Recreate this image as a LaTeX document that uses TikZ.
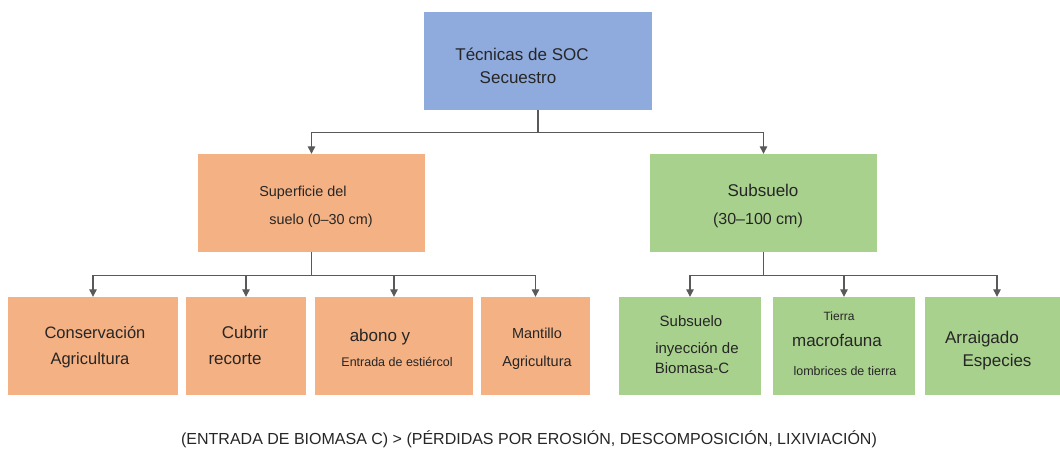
\documentclass[tikz,border=0pt]{standalone}
\usepackage{fontspec}
\setmainfont{Liberation Sans}
\usetikzlibrary{arrows.meta}
\definecolor{boxblue}{HTML}{8FAADC}
\definecolor{boxorange}{HTML}{F4B183}
\definecolor{boxgreen}{HTML}{A9D18E}
\definecolor{linegray}{HTML}{595959}
\definecolor{txtgray}{HTML}{262626}

\begin{document}
\begin{tikzpicture}[x=1pt, y=-1pt,
  box/.style={inner sep=0, minimum height=98pt},
  txt/.style={inner sep=0, text=txtgray, text height=0.72em, text depth=0pt},
  big/.style={txt, font=\fontsize{17}{20}\selectfont},
  mid/.style={txt, font=\fontsize{15}{18}\selectfont},
  small/.style={txt, font=\fontsize{12.5}{15}\selectfont},
  link/.style={draw=linegray, line width=1.2pt},
  arr/.style={link, -{Triangle[length=7.5pt,width=7.5pt]}}]
\useasboundingbox (0,0) rectangle (1060,453);

\node [box, fill=boxblue, minimum width=228pt] (tec) at (538,61) {};
\node [big] (tec1) at (522,57) {Técnicas de SOC};
\node [big] (tec2) at (518,80) {Secuestro};

\node [box, fill=boxorange, minimum width=227pt] (sup) at (311.5,203) {};
\node [txt, font=\fontsize{14.4}{17}\selectfont] (sup1) at (303,193) {Superficie del};
\node [txt, font=\fontsize{14.4}{17}\selectfont] (sup2) at (321,221) {suelo (0–30 cm)};

\node [box, fill=boxgreen, minimum width=227pt] (subs) at (763.5,203) {};
\node [big] (subs1) at (763,193) {Subsuelo};
\node [txt, font=\fontsize{16}{19}\selectfont] (subs2) at (758,221) {(30–100 cm)};

\node [box, fill=boxorange, minimum width=170pt] (c1) at (93,346) {};
\node [txt, font=\fontsize{16.5}{19}\selectfont] (c1a) at (95,335) {Conservación};
\node [txt, font=\fontsize{16.5}{19}\selectfont] (c1b) at (90,361) {Agricultura};

\node [box, fill=boxorange, minimum width=120pt] (c2) at (246,346) {};
\node [big] (c2a) at (245,335) {Cubrir};
\node [big] (c2b) at (235,361) {recorte};

\node [box, fill=boxorange, minimum width=158pt] (c3) at (394,346) {};
\node [big] (c3a) at (380,338) {abono y};
\node [small] (c3b) at (397,363) {Entrada de estiércol};

\node [box, fill=boxorange, minimum width=109pt] (c4) at (535.5,346) {};
\node [txt, font=\fontsize{14.5}{17}\selectfont] (c4a) at (537,335) {Mantillo};
\node [txt, font=\fontsize{14.5}{17}\selectfont] (c4b) at (537,363) {Agricultura};

\node [box, fill=boxgreen, minimum width=142pt] (c5) at (690,346) {};
\node [mid] (c5a) at (691,323) {Subsuelo};
\node [mid] (c5b) at (697,350) {inyección de};
\node [mid] (c5c) at (692,370) {Biomasa-C};

\node [box, fill=boxgreen, minimum width=142pt] (c6) at (844,346) {};
\node [txt, font=\fontsize{12}{14}\selectfont] (c6a) at (839,317) {Tierra};
\node [big] (c6b) at (837,343) {macrofauna};
\node [small] (c6c) at (845,372) {lombrices de tierra};

\node [box, fill=boxgreen, minimum width=135pt] (c7) at (992.5,346) {};
\node [big] (c7a) at (982,340) {Arraigado};
\node [big] (c7b) at (997,363) {Especies};

\draw [link] (tec.south) -- ++(0,22) coordinate (j1);
\draw [arr] (j1) -| (sup.north);
\draw [arr] (j1) -| (subs.north);

\draw [link] (sup.south) -- ++(0,23) coordinate (j2);
\draw [arr] (j2) -| (c1.north);
\draw [arr] (j2) -| (c2.north);
\draw [arr] (j2) -| (c3.north);
\draw [arr] (j2) -| (c4.north);

\draw [link] (subs.south) -- ++(0,23) coordinate (j3);
\draw [arr] (j3) -| (c5.north);
\draw [arr] (j3) -| (c6.north);
\draw [arr] (j3) -| ([xshift=4.5pt]c7.north);

\node [txt, font=\fontsize{16}{19}\selectfont] (note) at (529,441)
  {(ENTRADA DE BIOMASA C) > (PÉRDIDAS POR EROSIÓN, DESCOMPOSICIÓN, LIXIVIACIÓN)};
\end{tikzpicture}
\end{document}
